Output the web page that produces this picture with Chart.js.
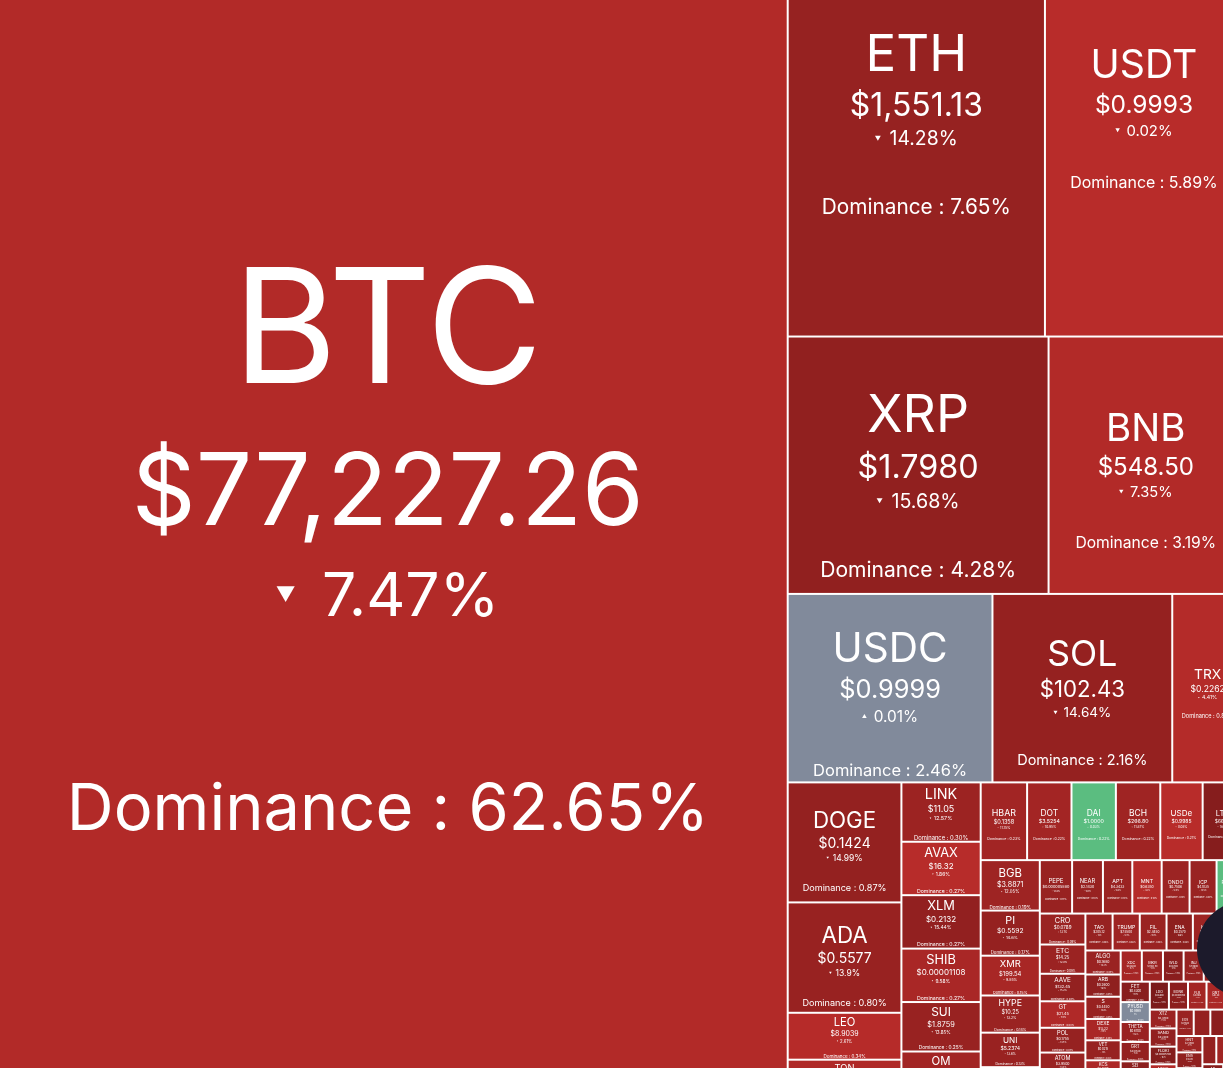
<!DOCTYPE html>
<html>
<head>
<meta charset="utf-8">
<title>Crypto heatmap</title>
<script src="https://cdn.jsdelivr.net/npm/chart.js@4.4.1/dist/chart.umd.min.js"></script>
<style>
  html, body { margin: 0; padding: 0; background: #fff; overflow: hidden; }
  #wrap { position: relative; width: 1223px; height: 1068px; }
</style>
</head>
<body>
<div id="wrap"><canvas id="heatmap"></canvas></div>
<script>
// ==== Data (market-cap order) ====
const coinNames = [
  'BTC', 'ETH', 'USDT', 'XRP', 'BNB', 'USDC', 'SOL', 'TRX', 'DOGE', 'ADA',
  'LEO', 'TON', 'LINK', 'AVAX', 'XLM', 'SHIB', 'SUI', 'OM', 'HBAR', 'DOT',
  'DAI', 'BCH', 'USDe', 'LTC', 'BGB', 'PI', 'XMR', 'HYPE', 'UNI', 'OKB',
  'PEPE', 'NEAR', 'APT', 'MNT', 'ONDO', 'ICP', 'FDUSD', 'CRO', 'ETC', 'AAVE',
  'GT', 'POL', 'ATOM', 'RENDER', 'TAO', 'TRUMP', 'FIL', 'ENA', 'KAS', 'TIA',
  'ALGO', 'ARB', 'S', 'DEXE', 'VET', 'KCS', 'OP', 'XDC', 'MKR', 'WLD',
  'INJ', 'IMX', 'STX', 'FET', 'PYUSD', 'THETA', 'GRT', 'SEI', 'JUP', 'LDO',
  'BONK', 'FLR', 'QNT', 'KAIA', 'XTZ', 'SAND', 'FLOKI', 'NEXO', 'CRV', 'EOS',
  'IOTA', 'JASMY', 'GALA', 'HNT', 'ENS', 'BTT', 'RAY', 'MANA', 'CAKE', 'PENDLE',
  'AR', 'NEO', 'AXS', 'BSV'
];

const coinPrices = [
  77227.26, 1551.13, 0.9993, 1.7980, 548.50, 0.9999, 102.43, 0.2262, 0.1424, 0.5577,
  8.9039, 2.9712, 11.05, 16.32, 0.2132, 0.00001108, 1.8759, 5.6130, 0.1358, 3.5254,
  1.0000, 266.80, 0.9985, 66.02, 3.8871, 0.5592, 199.54, 10.25, 5.2374, 47.10,
  0.00000588, 2.1430, 4.3433, 0.6350, 0.7506, 4.1035, 0.9990, 0.0789, 14.25, 132.45,
  21.45, 0.1755, 3.9500, 3.1200, 205.12, 7.5500, 2.4450, 0.2570, 0.0623, 2.3500,
  0.1680, 0.2600, 0.4450, 13.22, 0.0215, 8.9500, 0.5800, 0.0640, 1180.50, 0.6700,
  7.9800, 0.3900, 0.5600, 0.4300, 0.9999, 0.6700, 0.0720, 0.1450, 0.3500, 0.6800,
  0.00001050, 0.0160, 62.30, 0.1000, 0.4700, 0.2400, 0.00005700, 1.0300, 0.4900, 0.5500,
  0.1400, 0.0110, 0.0130, 2.5500, 13.90, 0.00000060, 1.6800, 0.2300, 1.7200, 2.5600,
  4.9000, 5.4500, 2.4000, 27.10
];

// 24h change, %
const coinChanges = [
  -7.47, -14.28, -0.02, -15.68, -7.35, 0.01, -14.64, -4.41, -14.99, -13.9,
  -2.61, -8.12, -12.57, -1.86, -15.44, -9.58, -13.85, -11.2, -11.15, -10.95,
  0.03, -11.87, -0.08, -18.3, -12.05, -14.6, -9.85, -13.2, -13.6, -6.2,
  -13.8, -14.1, -13.3, -4.2, -12.5, -13.5, 0.05, -13.1, -12.9, -15.2,
  -7.9, -14.5, -13.4, -16.0, -14.0, -12.1, -13.1, -16.6, -12.0, -14.0,
  -13.2, -16.1, -13.8, -9.5, -14.0, -8.7, -15.3, -10.2, -12.6, -17.4,
  -14.2, -15.8, -16.3, -17.9, 0.0, -13.6, -15.1, -16.8, -14.4, -21.5,
  -16.9, -10.7, -9.1, -11.4, -12.8, -15.5, -18.7, -6.9, -19.6, -13.3,
  -14.6, -17.2, -16.4, -12.2, -15.9, -9.8, -22.4, -15.0, -11.6, -18.9,
  -17.8, -13.9, -14.7, -10.4
];

// market dominance, % (sets the cell area)
const coinDominance = [
  62.65, 7.65, 5.89, 4.28, 3.19, 2.46, 2.16, 0.85, 0.87, 0.80,
  0.34, 0.285, 0.30, 0.27, 0.27, 0.27, 0.25, 0.24, 0.23, 0.22,
  0.22, 0.22, 0.21, 0.20, 0.19, 0.17, 0.15, 0.14, 0.13, 0.12,
  0.11, 0.105, 0.10, 0.10, 0.095, 0.092, 0.09, 0.09, 0.085, 0.08,
  0.077, 0.072, 0.07, 0.065, 0.064, 0.064, 0.063, 0.062, 0.061, 0.057,
  0.054, 0.05, 0.05, 0.048, 0.045, 0.044, 0.043, 0.042, 0.042, 0.041,
  0.040, 0.039, 0.039, 0.038, 0.037, 0.037, 0.036, 0.035, 0.035, 0.034,
  0.034, 0.033, 0.033, 0.032, 0.032, 0.031, 0.030, 0.030, 0.029, 0.029,
  0.028, 0.028, 0.027, 0.027, 0.026, 0.026, 0.025, 0.025, 0.024, 0.024,
  0.023, 0.023, 0.022, 0.022
];

// ==== Map box (the page only shows a window of the whole heatmap) ====
const mapWidth = 1255;
const mapHeight = 1229;
const viewX = [12, 1235];
const viewY = [130, 1198];

// ==== Squarified layout (golden ratio, same rule as d3.treemapSquarify) ====
function squarify(values, x0, y0, x1, y1) {
  const ratio = (1 + Math.sqrt(5)) / 2;
  const out = new Array(values.length);
  const n = values.length;
  let value = values.reduce((a, b) => a + b, 0);
  let i0 = 0, i1 = 0;
  while (i0 < n) {
    const dx = x1 - x0, dy = y1 - y0;
    let sum = values[i1++];
    let minV = sum, maxV = sum;
    const alpha = Math.max(dy / dx, dx / dy) / (value * ratio);
    let beta = sum * sum * alpha;
    let minRatio = Math.max(maxV / beta, beta / minV);
    for (; i1 < n; ++i1) {
      const v = values[i1];
      sum += v;
      if (v < minV) minV = v;
      if (v > maxV) maxV = v;
      beta = sum * sum * alpha;
      const r = Math.max(maxV / beta, beta / minV);
      if (r > minRatio) { sum -= v; break; }
      minRatio = r;
    }
    if (dx < dy) {
      const ny = i1 >= n ? y1 : y0 + dy * sum / value;
      let x = x0;
      for (let i = i0; i < i1; i++) {
        const w = dx * values[i] / sum;
        out[i] = { x0: x, y0: y0, x1: x + w, y1: ny };
        x += w;
      }
      y0 = ny;
    } else {
      const nx = i1 >= n ? x1 : x0 + dx * sum / value;
      let y = y0;
      for (let i = i0; i < i1; i++) {
        const h = dy * values[i] / sum;
        out[i] = { x0: x0, y0: y, x1: nx, y1: y + h };
        y += h;
      }
      x0 = nx;
    }
    value -= sum;
    i0 = i1;
  }
  return out;
}

const cells = squarify(coinDominance, 0, 0, mapWidth, mapHeight);

// ==== Helpers ====
const redStops = [
  [0, [184, 44, 42]], [7.5, [178, 42, 40]], [12, [158, 36, 35]],
  [15, [148, 33, 32]], [20, [127, 27, 27]], [30, [100, 20, 20]]
];

function tileColor(c) {
  if (c > 0.02) return 'rgb(91,189,128)';
  if (c >= -0.005) return 'rgb(129,138,155)';
  const a = Math.abs(c);
  for (let k = 1; k < redStops.length; k++) {
    const [v0, c0] = redStops[k - 1];
    const [v1, c1] = redStops[k];
    if (a <= v1) {
      const t = (a - v0) / (v1 - v0);
      const m = c0.map((q, j) => Math.round(q + (c1[j] - q) * t));
      return `rgb(${m[0]},${m[1]},${m[2]})`;
    }
  }
  return 'rgb(100,20,20)';
}

function fmtPrice(p) {
  if (p >= 10) return '$' + p.toLocaleString('en-US', { minimumFractionDigits: 2, maximumFractionDigits: 2 });
  if (p >= 0.001) return '$' + p.toFixed(4);
  return '$' + p.toPrecision(4);
}

function fmtChange(c) {
  return parseFloat(Math.abs(c).toFixed(2)) + '%';
}

function drawLabel(ctx, i, left, top, w, h) {
  const f = Math.min(w * 0.2, h * 0.25);
  if (f < 3) return;
  const cx = left + w / 2;
  const shift = Math.max(0, Math.min(0.4 * f, h / 2 - 1.85 * f));
  const gc = top + h / 2 + shift;
  const b1 = gc - 1.0365 * f;
  const b2 = b1 + 0.89 * f;
  const b3 = b2 + 0.57 * f;
  const b4 = b3 + 1.34 * f;

  ctx.fillStyle = '#ffffff';
  ctx.textAlign = 'center';
  ctx.textBaseline = 'alphabetic';

  ctx.font = `${f}px Inter`;
  ctx.fillText(coinNames[i], cx, b1);

  ctx.font = `${0.625 * f}px Inter`;
  ctx.fillText(fmtPrice(coinPrices[i]), cx, b2);

  // change line with small triangle
  const fc = 0.38 * f;
  const c = coinChanges[i];
  const txt = fmtChange(c);
  ctx.font = `${fc}px Inter`;
  const tw = ctx.measureText(txt).width;
  const triW = 0.3 * fc, gap = c !== 0 ? 0.45 * fc : 0;
  const total = (c !== 0 ? triW : 0) + gap + tw;
  const sx = cx - total / 2;
  if (c !== 0) {
    const ty = b3 - 0.36 * fc, th = 0.26 * fc;
    ctx.beginPath();
    if (c < 0) {
      ctx.moveTo(sx, ty - th / 2);
      ctx.lineTo(sx + triW, ty - th / 2);
      ctx.lineTo(sx + triW / 2, ty + th / 2);
    } else {
      ctx.moveTo(sx, ty + th / 2);
      ctx.lineTo(sx + triW, ty + th / 2);
      ctx.lineTo(sx + triW / 2, ty - th / 2);
    }
    ctx.closePath();
    ctx.fill();
  }
  ctx.textAlign = 'left';
  ctx.fillText(txt, sx + (c !== 0 ? triW : 0) + gap, b3);

  ctx.textAlign = 'center';
  ctx.font = `${0.407 * f}px Inter`;
  ctx.fillText('Dominance : ' + coinDominance[i].toFixed(2) + '%', cx, b4);
}

// ==== Treemap cells plugin ====
const treemapPlugin = {
  id: 'treemapCells',
  beforeDatasetsDraw(chart) {
    const { ctx, chartArea, scales: { x, y } } = chart;
    ctx.save();
    ctx.beginPath();
    ctx.rect(chartArea.left, chartArea.top, chartArea.width, chartArea.height);
    ctx.clip();
    ctx.fillStyle = '#ffffff';
    ctx.fillRect(chartArea.left, chartArea.top, chartArea.width, chartArea.height);
    cells.forEach((r, i) => {
      const left = x.getPixelForValue(r.x0) + 1;
      const right = x.getPixelForValue(r.x1) - 1;
      const top = y.getPixelForValue(r.y0) + 1;
      const bottom = y.getPixelForValue(r.y1) - 1;
      const w = right - left, h = bottom - top;
      if (w <= 0 || h <= 0) return;
      ctx.fillStyle = tileColor(coinChanges[i]);
      ctx.fillRect(left, top, w, h);
      drawLabel(ctx, i, left, top, w, h);
    });
    ctx.restore();
  },
  afterDraw(chart) {
    // floating round button of the page, half out of view
    const ctx = chart.ctx;
    ctx.save();
    ctx.fillStyle = '#1c1a2b';
    ctx.beginPath();
    ctx.arc(1245, 949, 48, 0, Math.PI * 2);
    ctx.fill();
    ctx.restore();
  }
};

const centers = cells.map(r => ({ x: (r.x0 + r.x1) / 2, y: (r.y0 + r.y1) / 2 }));

new Chart(document.getElementById('heatmap'), {
  type: 'scatter',
  data: {
    datasets: [{ label: 'Dominance', data: centers, pointRadius: 0, pointHoverRadius: 0 }]
  },
  options: {
    responsive: true,
    maintainAspectRatio: false,
    animation: false,
    events: [],
    layout: { padding: 0 },
    plugins: { legend: { display: false }, tooltip: { enabled: false } },
    scales: {
      x: { type: 'linear', display: false, min: viewX[0], max: viewX[1] },
      y: { type: 'linear', display: false, min: viewY[0], max: viewY[1], reverse: true }
    }
  },
  plugins: [treemapPlugin]
});
</script>
</body>
</html>
